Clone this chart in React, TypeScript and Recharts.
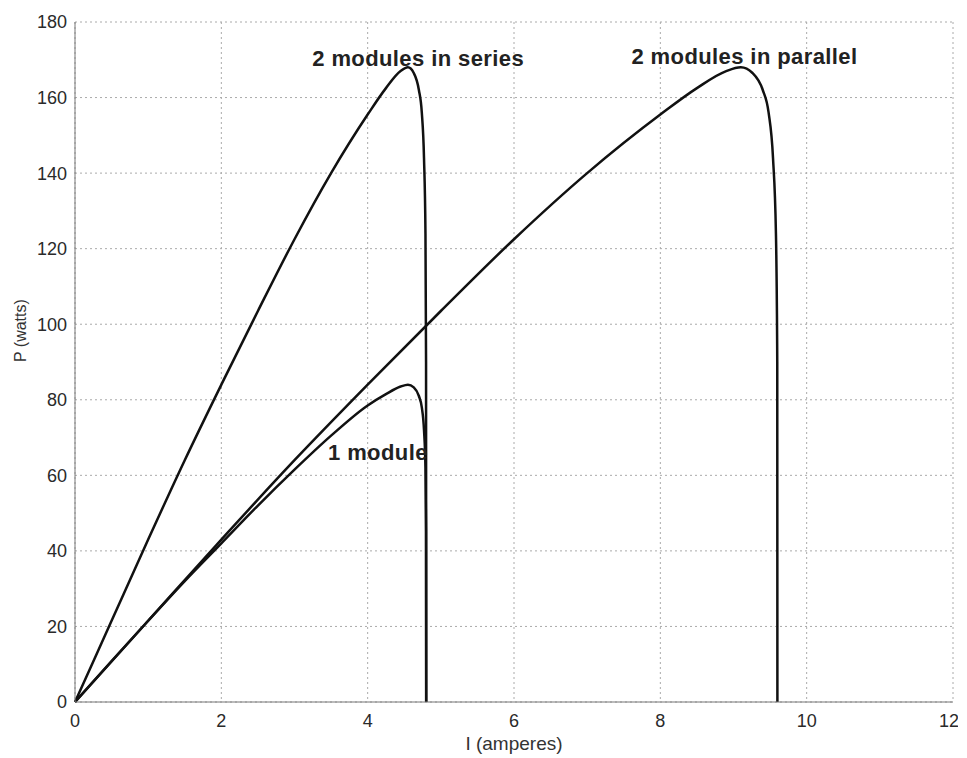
import { LineChart, Line, XAxis, YAxis, CartesianGrid, ReferenceDot } from "recharts";

// current (A) and power (W)
const oneModuleI = [0, 0.5, 1, 1.5, 2, 2.5, 3, 3.5, 4, 4.25, 4.45, 4.55, 4.63, 4.7, 4.74, 4.77, 4.79, 4.798, 4.8];
const oneModuleP = [0, 10.8, 21.5, 32, 42, 52, 61.5, 70.5, 78.5, 81.5, 83.5, 84, 83.3, 81, 78, 72, 62, 45, 0];

const seriesI = [0, 0.5, 1, 1.5, 2, 2.5, 3, 3.5, 4, 4.25, 4.45, 4.55, 4.63, 4.7, 4.74, 4.77, 4.79, 4.798, 4.8];
const seriesP = [0, 21.5, 43, 64, 84, 103.5, 122.5, 140, 155.5, 162.5, 167, 168, 166.5, 162, 156, 144, 124, 90, 0];

const parallelI = [0, 1, 2, 3, 4, 5, 6, 7, 8, 8.5, 8.9, 9.1, 9.26, 9.4, 9.48, 9.54, 9.58, 9.598, 9.6];
const parallelP = [0, 21.5, 43, 64, 84, 103.5, 122.5, 140, 155.5, 162.5, 167, 168, 166.5, 162, 156, 144, 124, 90, 0];

const xTicks = [0, 2, 4, 6, 8, 10, 12];
const yTicks = [0, 20, 40, 60, 80, 100, 120, 140, 160, 180];

const toPoints = (xs: number[], ys: number[]) => xs.map((i, k) => ({ i, p: ys[k] }));

const oneModule = toPoints(oneModuleI, oneModuleP);
const series = toPoints(seriesI, seriesP);
const parallel = toPoints(parallelI, parallelP);

const font = "'Liberation Sans', Arial, sans-serif";
const tickStyle = { fontSize: 18, fill: "#2a2a2a", fontFamily: font };

const note = (value: string) => ({
  value,
  position: "center" as const,
  fontSize: 22,
  fontWeight: 700,
  letterSpacing: 0.4,
  fill: "#222",
  fontFamily: font,
});

export default function App() {
  return (
    <LineChart width={950} height={750} margin={{ top: 14, right: 5, left: 0, bottom: 6 }}>
      <CartesianGrid stroke="#aaa" strokeDasharray="2 3" />
      <XAxis
        dataKey="i"
        type="number"
        domain={[0, 12]}
        ticks={xTicks}
        height={50}
        tick={tickStyle}
        tickLine={false}
        tickMargin={6}
        stroke="#777"
        label={{ value: "I (amperes)", position: "insideBottom", offset: 2, fontSize: 19, fill: "#333", fontFamily: font }}
      />
      <XAxis xAxisId="top" orientation="top" type="number" domain={[0, 12]} ticks={xTicks} tick={false} tickLine={false} height={0} stroke="#777" />
      <YAxis
        type="number"
        domain={[0, 180]}
        ticks={yTicks}
        width={67}
        tick={tickStyle}
        tickLine={false}
        tickMargin={2}
        stroke="#777"
        label={{ value: "P (watts)", angle: -90, position: "insideLeft", offset: 12, fontSize: 16, fill: "#333", fontFamily: font }}
      />
      <YAxis yAxisId="right" orientation="right" type="number" domain={[0, 180]} ticks={yTicks} tick={false} tickLine={false} width={0} stroke="#777" />
      <Line data={series} dataKey="p" type="monotoneX" stroke="#111" strokeWidth={2.5} dot={false} isAnimationActive={false} />
      <Line data={parallel} dataKey="p" type="monotoneX" stroke="#111" strokeWidth={2.5} dot={false} isAnimationActive={false} />
      <Line data={oneModule} dataKey="p" type="monotoneX" stroke="#111" strokeWidth={2.5} dot={false} isAnimationActive={false} />
      <ReferenceDot x={4.69} y={170.5} r={0} stroke="none" label={note("2 modules in series")} />
      <ReferenceDot x={9.15} y={171} r={0} stroke="none" label={note("2 modules in parallel")} />
      <ReferenceDot x={4.14} y={66} r={0} stroke="none" label={note("1 module")} />
    </LineChart>
  );
}
